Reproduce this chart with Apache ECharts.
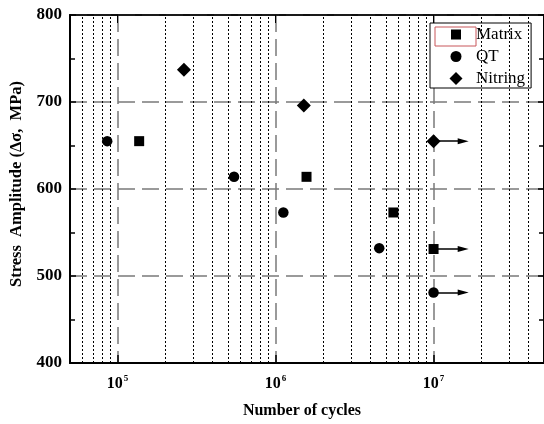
<!DOCTYPE html>
<html>
<head>
<meta charset="utf-8">
<script src="https://cdn.jsdelivr.net/npm/echarts@6/dist/echarts.min.js"></script>
<style>html,body{margin:0;padding:0;background:#fff}#c{width:544px;height:424px}</style>
</head>
<body>
<div id="c"></div>
<script>
// ---- data ----
const X_MIN = 5e4, X_MAX = 5e7;
const Y_MIN = 400, Y_MAX = 800, Y_STEP = 100;
const MINOR_X = [6e4,7e4,8e4,9e4,2e5,3e5,4e5,5e5,6e5,7e5,8e5,9e5,2e6,3e6,4e6,5e6,6e6,7e6,8e6,9e6,2e7,3e7,4e7];
const matrix  = [[1.37e5,655],[1.57e6,614],[5.57e6,573],[1.0e7,531]];
const qt      = [[8.6e4,655],[5.46e5,614],[1.12e6,573],[4.53e6,532],[1.0e7,481]];
const nitring = [[2.63e5,737],[1.51e6,696],[1.0e7,655]];
const RUNOUT_X = 1.0e7;          // run-out (no failure) specimens
const runoutY = [655, 531, 481];
const ARROW_X = 1.54e7;          // arrow head position
const legendNames = ['Matrix','QT','Nitring'];

const FONT = 'Liberation Serif, Times New Roman, serif';

const chart = echarts.init(document.getElementById('c'), null, {renderer:'canvas'});

const minorLines = MINOR_X.map(v => ({xAxis: v}));
const arrowLines = runoutY.map(y => [{coord:[RUNOUT_X, y]}, {coord:[ARROW_X, y]}]);

function xLabel(v){
  const e = Math.log10(v), r = Math.round(e);
  if (Math.abs(e - r) > 1e-6) return '';
  return '{b|10}{s|' + r + '}';
}

const black = {color: '#000', opacity: 1};
// legend icons inside a 14x14 box (leading moveTo points fix the box)
const ICON_RECT = 'path://M0,0M14,14M2,2L12,2L12,12L2,12Z';
const ICON_CIRCLE = 'path://M0,0M14,14M12.5,7A5.5,5.5,0,1,1,1.5,7A5.5,5.5,0,1,1,12.5,7Z';
const ICON_DIAMOND = 'path://M0,0M14,14M7,0.5L13.5,7L7,13.5L0.5,7Z';

const option = {
  animation: false,
  backgroundColor: '#fff',
  grid: {left: 70, top: 15, width: 477, height: 349, show: true, borderColor: '#000', borderWidth: 1.5, backgroundColor: 'transparent'},
  xAxis: [{
    type: 'log', logBase: 10, min: X_MIN, max: X_MAX, position: 'bottom',
    name: 'Number of cycles', nameLocation: 'middle', nameGap: 40,
    nameTextStyle: {fontFamily: FONT, fontWeight: 'bold', fontSize: 16, color: '#000', padding: [0, 10, 0, 0]},
    axisLine: {show: true, lineStyle: {color: '#000', width: 2}},
    axisTick: {show: true, inside: true, length: 8, lineStyle: {color: '#000', width: 1.5}},
    minorTick: {show: false},
    axisLabel: {formatter: xLabel, margin: 11, showMinLabel: false, showMaxLabel: false,
      rich: {
        b: {fontFamily: FONT, fontWeight: 'bold', fontSize: 16, color: '#000'},
        s: {fontFamily: FONT, fontWeight: 'bold', fontSize: 9, color: '#000', padding: [0,0,10,1]}
      }},
    splitLine: {show: true, lineStyle: {color: '#7a7a7a', width: 1.5, type: [17,7]}}
  },{
    type: 'log', logBase: 10, min: X_MIN, max: X_MAX, position: 'top',
    axisLine: {show: true, lineStyle: {color: '#000', width: 1.5}},
    axisTick: {show: true, inside: true, length: 8, lineStyle: {color: '#000'}},
    axisLabel: {show: false}, splitLine: {show: false}
  }],
  yAxis: [{
    type: 'value', min: Y_MIN, max: Y_MAX, interval: Y_STEP, position: 'left',
    name: 'Stress  Amplitude (\u0394\u03c3,  MPa)', nameLocation: 'middle', nameGap: 40,
    nameTextStyle: {fontFamily: FONT, fontWeight: 'bold', fontSize: 16.5, color: '#000', padding: [0, 0, 0, 10]},
    axisLine: {show: true, lineStyle: {color: '#000', width: 2}},
    axisTick: {show: true, inside: true, length: 6, lineStyle: {color: '#000', width: 1.5}},
    minorTick: {show: true, splitNumber: 2, length: 5, lineStyle: {color: '#000', width: 1.5}},
    axisLabel: {fontFamily: FONT, fontWeight: 'bold', fontSize: 17, color: '#000', margin: 8},
    splitLine: {show: true, lineStyle: {color: '#7a7a7a', width: 1.5, type: [17,7]}}
  },{
    type: 'value', min: Y_MIN, max: Y_MAX, interval: Y_STEP, position: 'right',
    axisLine: {show: true, lineStyle: {color: '#000', width: 2}},
    axisTick: {show: true, inside: true, length: 6, lineStyle: {color: '#000', width: 1.5}},
    minorTick: {show: true, splitNumber: 2, length: 5, lineStyle: {color: '#000', width: 1.5}},
    axisLabel: {show: false}, splitLine: {show: false}
  }],
  legend: {
    left: 430, top: 23, orient: 'vertical', selectedMode: false,
    data: [{name: legendNames[0], icon: ICON_RECT}, {name: legendNames[1], icon: ICON_CIRCLE}, {name: legendNames[2], icon: ICON_DIAMOND}],
    itemWidth: 14, itemHeight: 14, itemGap: 5,
    padding: [3, 6, 1, 19],
    borderColor: '#000', borderWidth: 1, backgroundColor: '#fff',
    itemStyle: {opacity: 1},
    textStyle: {fontFamily: FONT, fontSize: 17, color: '#000', lineHeight: 17, padding: [0,0,0,8]}
  },
  graphic: [{type: 'rect', z: 100, shape: {x: 435, y: 27, width: 41, height: 19}, style: {fill: 'none', stroke: '#c8575a', lineWidth: 1}}],
  series: [
    {type: 'scatter', name: 'aux', data: [], z: 1, silent: true,
      markLine: {silent: true, symbol: ['none','none'], label: {show: false}, animation: false,
        lineStyle: {color: '#000', width: 1, type: [2,2]},
        data: minorLines}},
    {type: 'scatter', name: 'arrows', data: [], z: 3, silent: true,
      markLine: {silent: true, symbol: ['none','none'], label: {show: false}, animation: false,
        lineStyle: {color: '#000', width: 1.5, type: 'solid'},
        data: arrowLines}},
    {type: 'scatter', name: 'arrowHeads', data: runoutY.map(y => [ARROW_X, y]), symbol: 'triangle', symbolRotate: -90,
      symbolSize: [6, 11], itemStyle: black, z: 3, silent: true},
    {type: 'scatter', name: legendNames[0], data: matrix, symbol: 'rect', symbolSize: 10, itemStyle: black, z: 4},
    {type: 'scatter', name: legendNames[1], data: qt, symbol: 'circle', symbolSize: 10.5, itemStyle: black, z: 4},
    {type: 'scatter', name: legendNames[2], data: nitring, symbol: 'diamond', symbolSize: 14, itemStyle: black, z: 4}
  ]
};
chart.setOption(option);
</script>
</body>
</html>
